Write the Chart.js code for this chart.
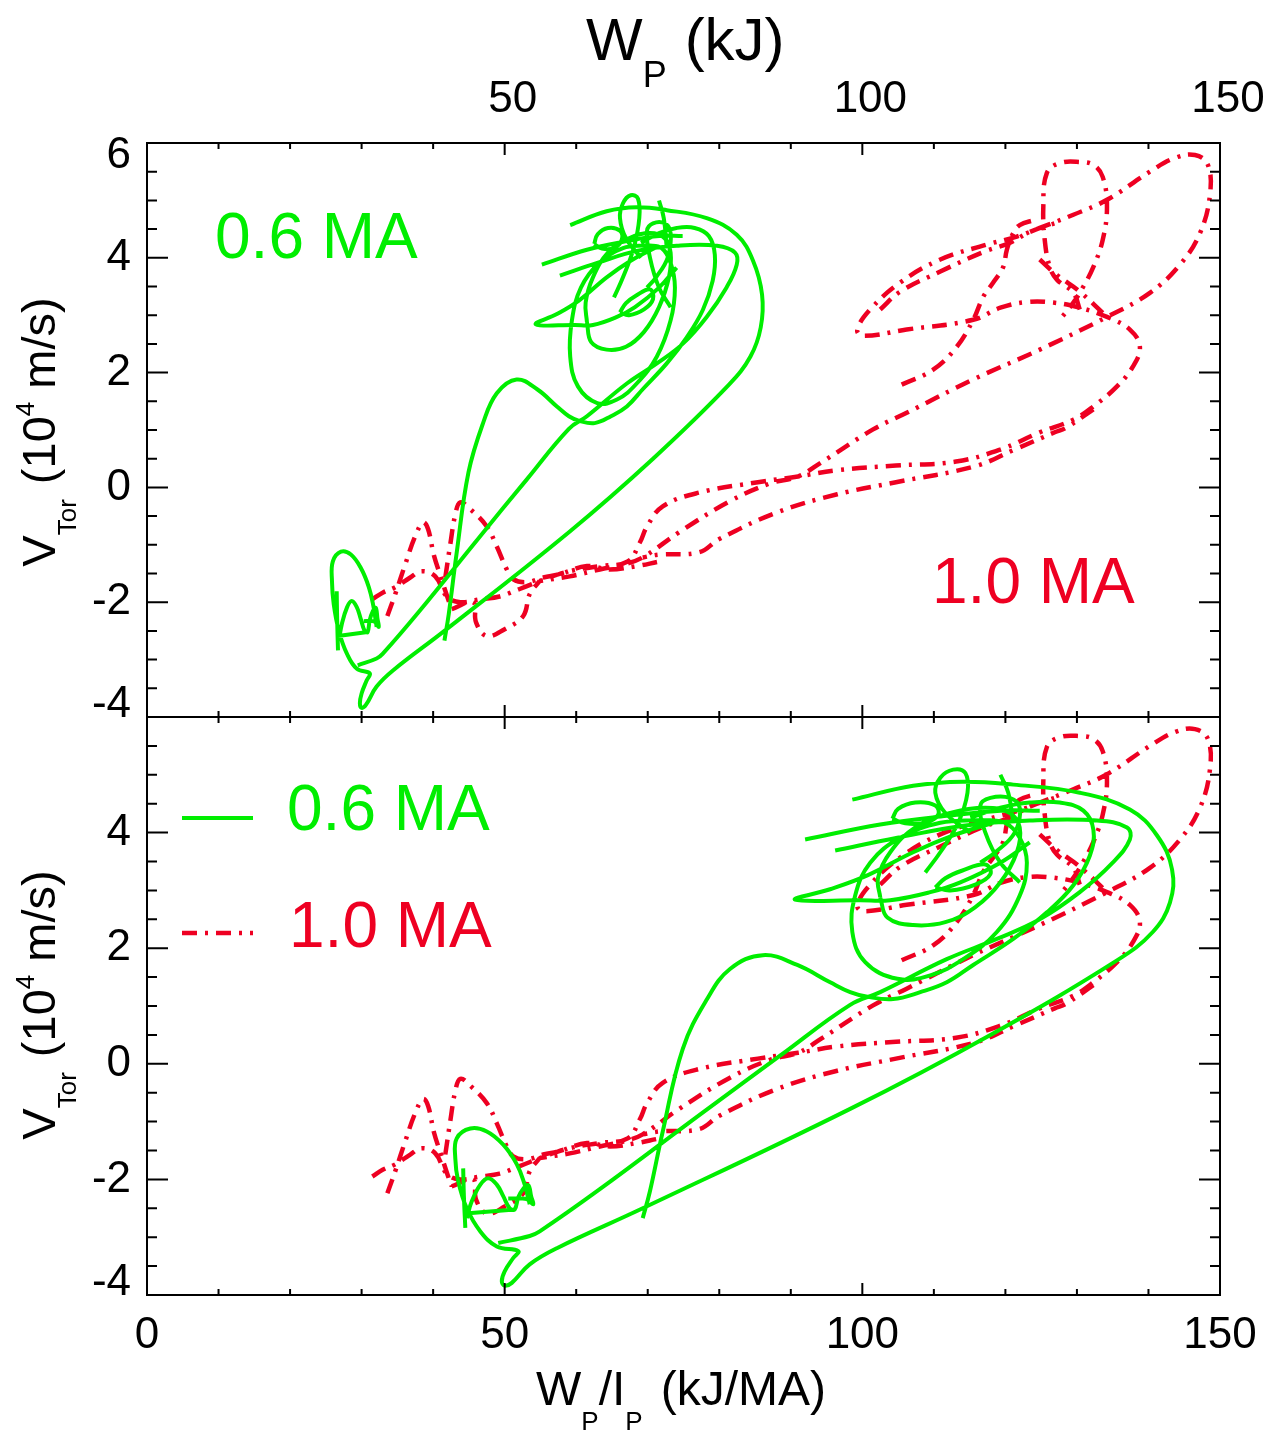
<!DOCTYPE html>
<html>
<head>
<meta charset="utf-8">
<script src="https://cdn.jsdelivr.net/npm/chart.js@4.4.1/dist/chart.umd.min.js"></script>
<style>
  html, body { margin: 0; padding: 0; background: #fff; }
  #wrap { position: relative; width: 1277px; height: 1433px; }
  #wrap canvas { position: absolute; left: 0; }
</style>
</head>
<body>
<div id="wrap">
  <canvas id="topPanel" width="1277" height="720" style="top:0"></canvas>
  <canvas id="botPanel" width="1277" height="733" style="top:700px"></canvas>
</div>
<script>
// plasma currents (MA)
const IP_LOW = 0.6;
const IP_HIGH = 1.0;

// 0.6 MA shot: W_P/I_P (kJ/MA) vs V_Tor (1e4 m/s); null starts a new stroke
const wpIp06 = [
  53.5, 53.3, 52.8, 51.7, 49.8, 47.5, 45.2, 43.3, 43.1, 43.5, 44.7, 46.6, 48.9, 51.9, 51.2, 50.0, 49.6, 50.0, 51.0, 53.5,
  57.3, 69.3, 98.3, 117.9, 135.6, 140.6, 143.0, 143.3, 141.2, 137.4, 130.4, 121.1, 114.1, 107.1, 98.6, null,
  49.1, 53.5, 54.9, 63.3, 77.3, 88.5, 98.3, 102.5, 111.8, 118.8, 124.8, 130.4, 135.0, 137.4, 137.0, 132.8, 123.4, 114.1,
  104.9, 96.2, null,
  69.3, 70.3, 72.1, 74.9, 78.3, 81.5, 86.1, 90.9, 95.5, 98.3, 100.7, 104.3, 108.1, 111.8, 115.5, 121.1, 125.8, 129.5,
  131.8, 132.3, 130.9, 127.6, 123.4, 119.3, 115.1, null,
  92.0, 102.5, 111.8, 119.3, 124.8, null,
  118.3, 112.7, 107.1, 100.7, 95.5, 90.6, 99.7, 103.9, 109.5, 113.7, 119.3, 123.4, null,
  116.5, 110.9, 105.3, 101.1, 99.0, 98.6, 100.4, 104.9, 109.5, 114.1, 118.8, 122.0, 123.0, 122.0, 119.9, 116.5, null,
  102.5, 103.5, 107.1, 111.6, 115.8, 119.3, 121.6, 122.0, 120.6, 117.2, 112.3, 107.4, 103.9, 102.2, 102.5, null,
  108.8, 110.9, 113.4, 114.7, 114.4, 112.7, 110.9, 110.2, 111.6, 115.1, null,
  104.2, 105.0, 107.4, 110.2, 110.6, 108.8, 106.0, 104.2, null,
  110.2, 111.6, 113.9, 117.2, 117.9, 115.8, 112.3, 110.2, null,
  116.5, 118.6, 121.3, 122.0, 120.6, 117.9, 116.5, 117.2, 119.3, 122.0, null,
  119.3, 120.4, 121.1, null,
  44.7, 45.4, 46.6, 47.7, 48.9, 49.8, 50.7, 51.4, 51.9, 52.6, 53.3, 53.7, 54.0, 53.1, 51.9, 50.5, null,
  44.2, 44.3, 44.5, null,
  44.5, 51.4
];
const vTor06 = [
  -2.43, -2.33, -2.09, -1.74, -1.40, -1.17, -1.12, -1.29, -1.64, -2.03, -2.50, -2.90, -3.16, -3.24, -3.36, -3.59, -3.76, -3.84, -3.79, -3.47,
  -3.19, -2.50, -0.78, 0.50, 1.79, 2.28, 2.79, 3.36, 3.95, 4.40, 4.69, 4.83, 4.88, 4.81, 4.57, null,
  -3.10, -2.98, -2.90, -2.17, -0.88, 0.14, 1.02, 1.24, 1.81, 2.16, 2.50, 2.97, 3.48, 3.88, 4.09, 4.21, 4.21, 4.12,
  3.91, 3.69, null,
  -2.67, -2.21, -1.17, 0.26, 1.12, 1.64, 1.88, 1.71, 1.41, 1.24, 1.16, 1.12, 1.24, 1.41, 1.71, 2.16, 2.62, 3.09,
  3.60, 4.05, 4.38, 4.52, 4.52, 4.43, 4.26, null,
  3.88, 4.14, 4.29, 4.38, 4.38, null,
  4.17, 3.95, 3.66, 3.26, 3.02, 2.84, 2.83, 2.83, 2.97, 3.14, 3.48, 3.83, null,
  4.22, 4.17, 3.91, 3.48, 2.91, 2.28, 1.76, 1.47, 1.53, 1.81, 2.28, 2.91, 3.48, 3.91, 4.17, 4.22, null,
  2.88, 2.53, 2.40, 2.45, 2.71, 3.14, 3.66, 4.09, 4.34, 4.43, 4.34, 4.09, 3.66, 3.22, 2.88, null,
  3.31, 3.66, 4.17, 4.69, 5.03, 5.09, 4.95, 4.69, 4.34, 4.00, null,
  4.24, 4.41, 4.52, 4.47, 4.31, 4.17, 4.16, 4.24, null,
  3.05, 3.21, 3.34, 3.45, 3.28, 3.10, 3.00, 3.05, null,
  3.48, 3.66, 4.00, 4.43, 4.60, 4.60, 4.47, 4.00, 3.48, 3.14, null,
  5.00, 4.69, 4.17, null,
  -2.67, -2.38, -2.09, -1.98, -2.09, -2.29, -2.50, -2.52, -2.31, -2.16, -2.10, -2.29, -2.43, -2.34, -2.33, -2.33, null,
  -1.81, -2.29, -2.84, null,
  -2.59, -2.52
];

// 1.0 MA shot: W_P (kJ) vs V_Tor (1e4 m/s)
const wp10 = [
  31.5, 33.0, 34.7, 36.8, 38.4, 40.3, 41.9, 43.8, 46.6, 49.3, 52.1, 55.6, 59.1, 63.3, 67.2, 68.9, 69.9, 72.1, 77.2, 85.4,
  91.0, 96.5, 104.7, 113.1, 119.3, 124.8, 129.5, 132.3, 135.6, 137.8, 138.8, 137.4, 134.2, 130.4, 126.7, 123.0, 119.3, 115.5,
  106.2, 100.0, 99.3, 101.1, 105.3, 110.9, 117.4, 121.6, 124.8, 129.5, 134.2, 140.2, 143.7, 146.5, 148.3, 148.6, 147.2, 144.4,
  140.2, 134.2, 124.8, 115.5, 106.2, 101.5, 94.2, 91.0, 87.1, 81.5, 74.4, 69.3, 66.7, 63.3, 59.1, 54.9, null,
  132.3, 128.5, 126.9, 121.3, 115.8, 104.7, 96.5, 88.2, 80.0, 77.2, 71.6, 69.3, null,
  41.7, 42.4, 43.1, 43.8, 45.2, 47.5, 48.9, 50.3, 51.2, 53.1, 55.4, 57.7, 61.5, 64.7, 68.5, 71.3, null,
  42.6, 45.6, 46.0, 47.5, 50.0, 52.6, 53.5, 54.9, null,
  33.6, 34.7, 36.1, 37.5, 38.6, 39.3, 40.1, 41.1, 42.1, 42.6, null,
  130.4, 129.5, 127.2, 126.2, 125.5, 125.3, 125.8, 127.6, 130.4, 132.3, 133.6, 134.2, 133.6, 132.3, 130.9, 129.5, 127.6, null,
  105.5, 109.9, 113.2, 115.5, 116.9, 118.3, 119.7, 120.2, 121.1, 122.0, 124.1, null,
  102.5, 105.3, 110.9, 116.9, 120.6, 123.4, 127.6, null,
  124.8, 127.2, 130.4, 134.2
];
const vTor10 = [
  -1.95, -1.83, -1.74, -1.57, -1.46, -1.55, -1.90, -2.00, -1.95, -1.90, -1.77, -1.60, -1.46, -1.37, -1.29, -0.96, -0.68, -0.33, -0.09, 0.09,
  0.19, 0.30, 0.38, 0.45, 0.66, 0.96, 1.18, 1.41, 1.76, 2.10, 2.45, 2.75, 2.97, 3.13, 3.22, 3.23, 3.13, 2.92,
  2.75, 2.64, 2.75, 3.10, 3.57, 3.97, 4.23, 4.37, 4.52, 4.75, 5.01, 5.50, 5.74, 5.79, 5.62, 5.10, 4.43, 3.88,
  3.39, 2.97, 2.40, 1.88, 1.30, 1.01, 0.43, 0.19, 0.07, -0.24, -0.78, -1.22, -1.34, -1.43, -1.55, -1.63, null,
  1.36, 1.04, 0.96, 0.66, 0.37, 0.09, -0.12, -0.43, -0.90, -1.13, -1.17, -1.22, null,
  -1.57, -0.99, -0.47, -0.26, -0.38, -0.68, -1.03, -1.43, -1.60, -1.65, -1.57, -1.51, -1.37, -1.43, -1.37, -1.30, null,
  -2.12, -2.00, -2.35, -2.59, -2.47, -2.24, -1.86, -1.63, null,
  -2.24, -1.86, -1.34, -0.85, -0.61, -0.73, -1.18, -1.57, -1.95, -2.12, null,
  3.10, 3.39, 3.62, 3.84, 4.31, 4.89, 5.48, 5.65, 5.67, 5.62, 5.41, 4.89, 4.31, 3.84, 3.50, 3.22, 2.92, null,
  1.79, 2.05, 2.45, 2.92, 3.32, 3.57, 3.84, 4.14, 4.43, 4.57, 4.66, null,
  3.10, 3.41, 3.76, 4.10, 4.26, 4.45, 4.63, null,
  3.97, 3.70, 3.41, 2.97
];

const xTicks = [0, 50, 100, 150];
const yTicks = [-4, -2, 0, 2, 4, 6];
const seriesLabels = ['0.6 MA', '1.0 MA'];

const INK = '#000';
const GREEN = '#00ee00';
const RED = '#ee0022';
const FONT = '"Liberation Sans", Arial, Helvetica, sans-serif';
const DASH_DOT = [15, 8, 3, 8];

// zip x/y lists into points, scaling x by k; null keeps the gap
const pts = (xs, ys, k) => xs.map((x, i) =>
  x === null ? { x: null, y: null } : { x: x * k, y: ys[i] });

function drawRuns(ctx, runs, x, y) {
  ctx.textBaseline = 'alphabetic';
  ctx.textAlign = 'left';
  for (const r of runs) {
    ctx.font = `${r.size}px ${FONT}`;
    ctx.fillText(r.text, x, y + (r.dy || 0));
    x += ctx.measureText(r.text).width + (r.gap || 0);
  }
  return x;
}
function runsWidth(ctx, runs) {
  let w = 0;
  for (const r of runs) {
    ctx.font = `${r.size}px ${FONT}`;
    w += ctx.measureText(r.text).width + (r.gap || 0);
  }
  return w;
}

const yTitleRuns = [
  { text: 'V', size: 47 },
  { text: 'Tor', size: 26, dy: 21, gap: 2 },
  { text: ' (10', size: 47 },
  { text: '4', size: 26, dy: -21 },
  { text: ' m/s)', size: 47 }
];
function drawYTitle(ctx, cx, cy) {
  ctx.save();
  ctx.translate(cx, cy);
  ctx.rotate(-Math.PI / 2);
  ctx.fillStyle = INK;
  drawRuns(ctx, yTitleRuns, -runsWidth(ctx, yTitleRuns) / 2, 0);
  ctx.restore();
}

// frame box with inward ticks on all four sides, and end labels kept inside the box
const frameTicks = {
  id: 'frameTicks',
  beforeDraw(chart) {
    const a = chart.chartArea;
    chart.scales.y.getLabelItems().forEach(item => {
      const t = item.options.translation;
      if (t[1] < a.top + 13) t[1] = a.top + 13;
      if (t[1] > a.bottom - 12) t[1] = a.bottom - 12;
    });
  },
  afterDraw(chart) {
    const { ctx, chartArea: a, scales } = chart;
    ctx.save();
    ctx.strokeStyle = INK;
    ctx.lineWidth = 2;
    ctx.beginPath();
    for (let v = 0; v <= 150; v += 10) {
      const px = scales.x.getPixelForValue(v);
      const len = v % 50 === 0 ? 12 : 6;
      ctx.moveTo(px, a.top); ctx.lineTo(px, a.top + len);
      ctx.moveTo(px, a.bottom); ctx.lineTo(px, a.bottom - len);
    }
    for (let v = -4; v <= 6; v += 0.5) {
      const py = scales.y.getPixelForValue(v);
      const len = v % 2 === 0 ? 21 : 10;
      ctx.moveTo(a.left, py); ctx.lineTo(a.left + len, py);
      ctx.moveTo(a.right, py); ctx.lineTo(a.right - len, py);
    }
    ctx.stroke();
    ctx.strokeRect(a.left, a.top, a.right - a.left, a.bottom - a.top);
    ctx.restore();
  }
};

const topDecor = {
  id: 'topDecor',
  afterDraw(chart) {
    const ctx = chart.ctx;
    ctx.save();
    ctx.fillStyle = INK;
    drawRuns(ctx, [
      { text: 'W', size: 60 },
      { text: 'P', size: 36, dy: 27, gap: 18 },
      { text: '(kJ)', size: 60 }
    ], 586, 60);
    drawYTitle(ctx, 55, 432);
    ctx.font = `64px ${FONT}`;
    ctx.fillStyle = GREEN;
    ctx.fillText(seriesLabels[0], 215, 258);
    ctx.fillStyle = RED;
    ctx.fillText(seriesLabels[1], 932, 603);
    ctx.restore();
  }
};

const OFF2 = 700; // top of the lower canvas on the page
const bottomDecor = {
  id: 'bottomDecor',
  afterDraw(chart) {
    const ctx = chart.ctx;
    ctx.save();
    ctx.fillStyle = INK;
    drawRuns(ctx, [
      { text: 'W', size: 48 },
      { text: 'P', size: 26, dy: 25 },
      { text: '/I', size: 48 },
      { text: 'P', size: 26, dy: 25, gap: 18 },
      { text: '(kJ/MA)', size: 48 }
    ], 536, 1405 - OFF2);
    drawYTitle(ctx, 55, 1005 - OFF2);

    // legend
    ctx.lineWidth = 4;
    ctx.strokeStyle = GREEN;
    ctx.beginPath(); ctx.moveTo(182, 818 - OFF2); ctx.lineTo(253, 818 - OFF2); ctx.stroke();
    ctx.strokeStyle = RED;
    ctx.lineWidth = 4.5;
    ctx.setLineDash(DASH_DOT);
    ctx.beginPath(); ctx.moveTo(182, 933 - OFF2); ctx.lineTo(253, 933 - OFF2); ctx.stroke();
    ctx.setLineDash([]);
    ctx.font = `64px ${FONT}`;
    ctx.fillStyle = GREEN;
    ctx.fillText(seriesLabels[0], 287, 830 - OFF2);
    ctx.fillStyle = RED;
    ctx.fillText(seriesLabels[1], 289, 947 - OFF2);
    ctx.restore();
  }
};

function tickFont() { return { family: FONT, size: 44 }; }

function panelConfig(greenK, redK, opts) {
  return {
    type: 'line',
    data: {
      datasets: [
        { label: seriesLabels[0], data: pts(wpIp06, vTor06, greenK), borderColor: GREEN, borderWidth: 4,
          tension: 0.4, pointRadius: 0, spanGaps: false },
        { label: seriesLabels[1], data: pts(wp10, vTor10, redK), borderColor: RED, borderWidth: 4.5,
          borderDash: DASH_DOT, tension: 0.4, pointRadius: 0, spanGaps: false }
      ]
    },
    options: {
      responsive: false,
      animation: false,
      layout: { padding: opts.padding },
      plugins: { legend: { display: false }, tooltip: { enabled: false } },
      scales: {
        x: {
          type: 'linear', position: opts.xPos, min: 0, max: 150,
          afterBuildTicks: s => { s.ticks = xTicks.map(v => ({ value: v })); },
          ticks: { font: tickFont(), color: INK, padding: opts.xPad, labelOffset: opts.xLabelOffset,
                   maxRotation: 0, autoSkip: false, callback: opts.xLabel },
          grid: { display: false, drawTicks: false },
          border: { display: false },
          afterFit: s => { s.height = opts.xHeight; s.paddingLeft = 0; s.paddingRight = 0; }
        },
        y: {
          type: 'linear', min: -4, max: 6,
          afterBuildTicks: s => { s.ticks = yTicks.map(v => ({ value: v })); },
          ticks: { font: tickFont(), color: INK, padding: 16, autoSkip: false, callback: opts.yLabel },
          grid: { display: false, drawTicks: false },
          border: { display: false },
          afterFit: s => { s.width = 147; s.paddingTop = 0; s.paddingBottom = 0; }
        }
      }
    }
  };
}

// upper panel: stored energy on the abscissa
const cfgTop = panelConfig(IP_LOW, 1, {
  padding: { top: 0, right: 57, bottom: 3, left: 0 },
  xPos: 'top', xHeight: 143, xPad: 17, xLabelOffset: 8,
  xLabel: v => (v === 0 ? '' : String(v)),
  yLabel: v => String(v)
});
cfgTop.plugins = [frameTicks, topDecor];
new Chart(document.getElementById('topPanel'), cfgTop);

// lower panel: energy normalised by plasma current
const cfgBot = panelConfig(1, 1 / IP_HIGH, {
  padding: { top: 17, right: 57, bottom: 0, left: 0 },
  xPos: 'bottom', xHeight: 138, xPad: 14, xLabelOffset: 0,
  xLabel: v => String(v),
  yLabel: v => (v === 6 ? '' : String(v))
});
cfgBot.plugins = [frameTicks, bottomDecor];
new Chart(document.getElementById('botPanel'), cfgBot);
</script>
</body>
</html>
